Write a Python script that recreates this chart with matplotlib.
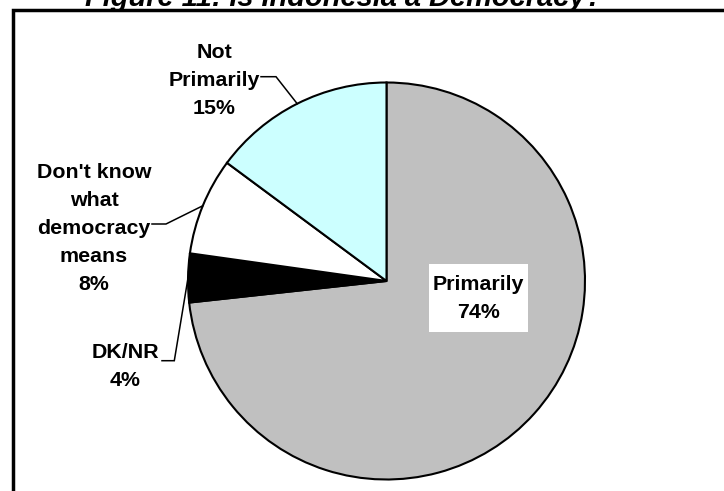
import numpy as np
import matplotlib
matplotlib.use("Agg")
import matplotlib.pyplot as plt
from matplotlib.patches import Rectangle

# ---- data ----
categories = ["Primarily", "DK/NR", "Don't know what democracy means", "Not Primarily"]
values = [74, 4, 8, 15]
label_texts = ["Primarily", "DK/NR", "Don't know\nwhat\ndemocracy\nmeans", "Not\nPrimarily"]
colors = ["#C0C0C0", "#000000", "#FFFFFF", "#CCFFFF"]
title = "Figure 11: Is Indonesia a Democracy?"

W, H = 724, 491
fig = plt.figure(figsize=(W / 100, H / 100), dpi=100)
ax = fig.add_axes([0, 0, 1, 1])

def py(y):
    return H - y

center = (386.5, py(281))
radius = 198.5

wedges, _ = ax.pie(values, colors=colors, startangle=90, counterclock=False,
                   center=center, radius=radius,
                   wedgeprops=dict(edgecolor="black", linewidth=1.5))
ax.set_xlim(0, W)
ax.set_ylim(0, H)
ax.set_aspect("auto")
ax.axis("off")

font = dict(family=["Liberation Sans", "DejaVu Sans"], fontweight="bold", fontsize=15.4)

# label layout (pixel positions, top-down)
label_pos = [(478.5, 298), (125, 366), (94, 228), (214, 80)]
leader = [None, [(162, 360.7), (174.3, 360.7)], [(152, 224), (166, 224)],
          [(261, 76.7), (276, 76.7)]]

for i, w in enumerate(wedges):
    txt = f"{label_texts[i]}\n{values[i]}%"
    x, y = label_pos[i]
    if i == 0:
        bw, bh = 99, 68
        ax.add_patch(Rectangle((x - bw / 2, py(y) - bh / 2), bw, bh,
                               facecolor="white", edgecolor="none", zorder=4))
    ax.text(x, py(y), txt, ha="center", va="center", multialignment="center",
            linespacing=1.6, zorder=7, **font)
    if leader[i] is not None:
        th = np.deg2rad((w.theta1 + w.theta2) / 2)
        ax_pt = (center[0] + radius * np.cos(th), center[1] + radius * np.sin(th))
        xs = [leader[i][0][0], leader[i][1][0], ax_pt[0]]
        ys = [py(leader[i][0][1]), py(leader[i][1][1]), ax_pt[1]]
        ax.plot(xs, ys, color="black", lw=1.1, solid_joinstyle="miter", zorder=5)

# frame lines
ax.plot([13, 13, W + 5], [py(H + 5), py(10), py(10)], color="black", lw=2.5,
        solid_joinstyle="miter", clip_on=False, zorder=6)

fig.text(344 / W, 1 - 6 / H, title, ha="center", va="baseline",
         family=["Liberation Sans", "DejaVu Sans"], fontweight="bold",
         fontstyle="italic", fontsize=20.9)

fig.savefig("out.png", dpi=100)
